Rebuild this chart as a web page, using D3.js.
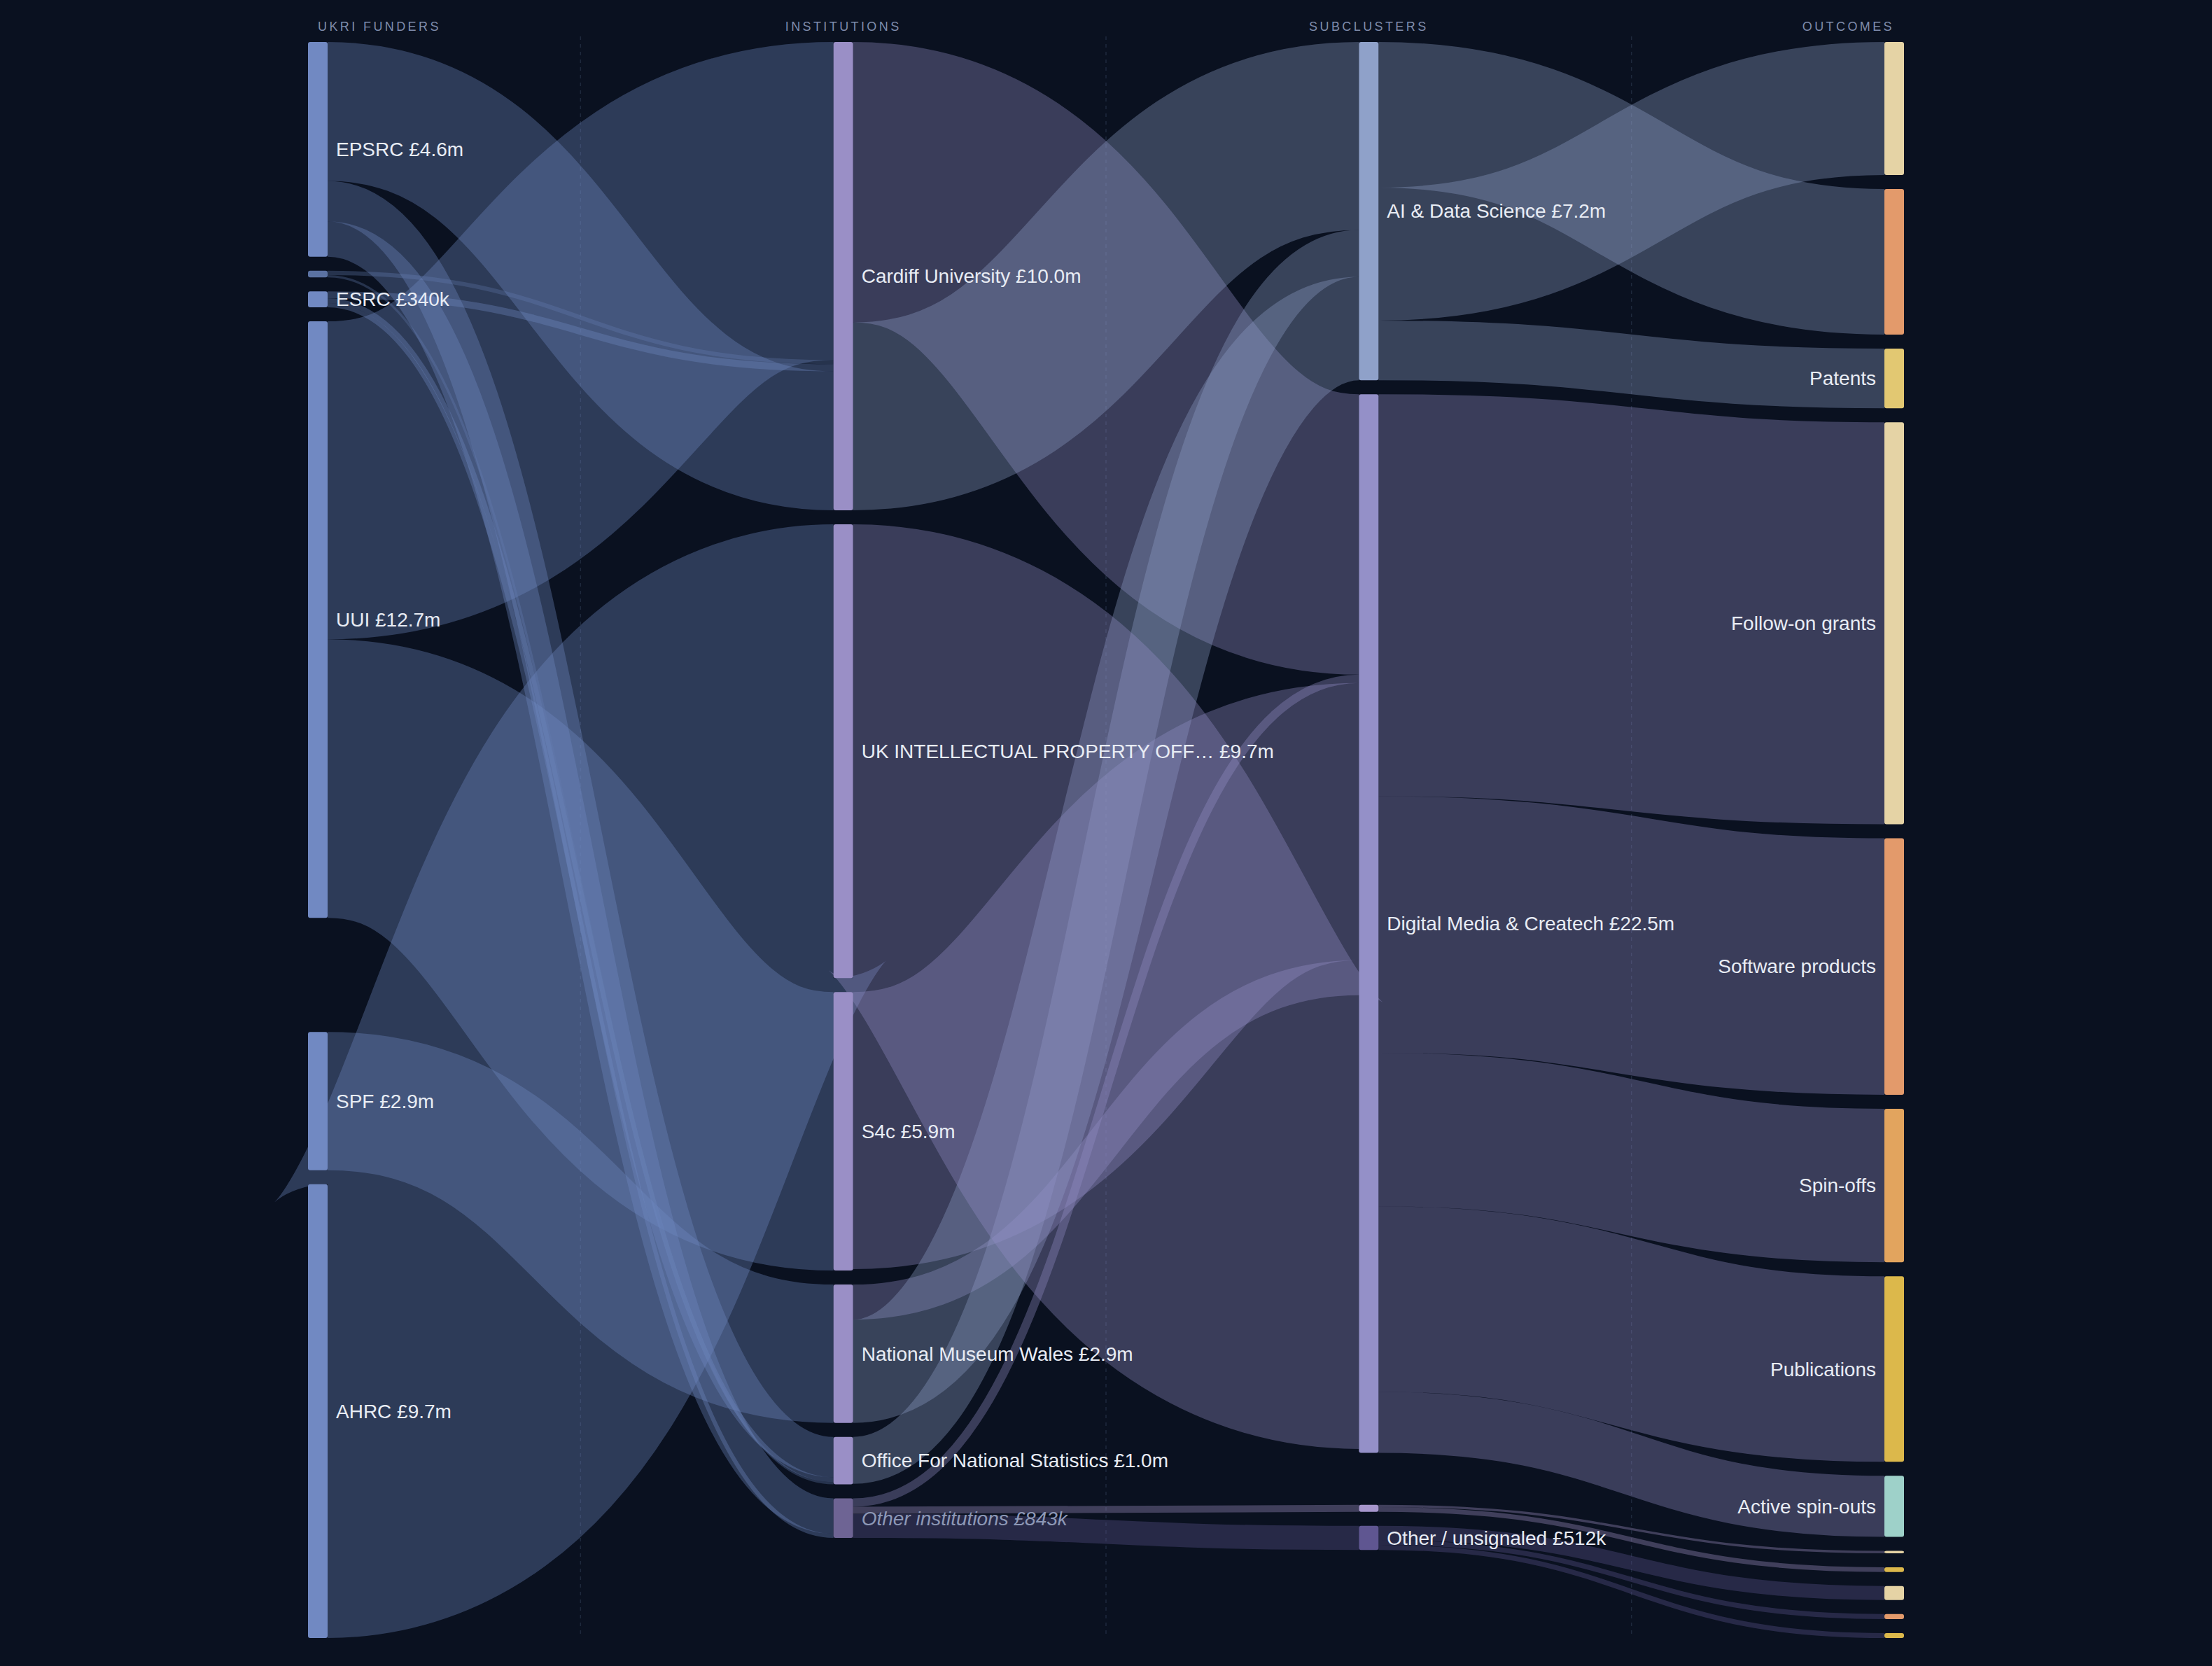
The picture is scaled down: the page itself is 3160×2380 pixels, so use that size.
<!DOCTYPE html>
<html><head><meta charset="utf-8">
<script src="https://cdn.jsdelivr.net/npm/d3@7"></script>
<style>
html,body{margin:0;padding:0;background:#0a1120;}
svg{display:block;}
</style></head><body>
<script>
// ---------------- DATA ----------------
const columnTitles = ["UKRI FUNDERS", "INSTITUTIONS", "SUBCLUSTERS", "OUTCOMES"];
const funders = ["EPSRC", "Other funders", "ESRC", "UUI", "SPF", "AHRC"];
const institutions = ["Cardiff University", "UK INTELLECTUAL PROPERTY OFF\u2026", "S4c",
  "National Museum Wales", "Office For National Statistics", "Other institutions"];
const subclusters = ["AI & Data Science", "Digital Media & Createch", "Other subclusters", "Other / unsignaled"];
const outcomeTypes = ["Follow-on grants", "Software products", "Patents", "Spin-offs", "Publications", "Active spin-outs"];

// funder -> institution (£m)
const fundingFlows = [
  ["UUI", "Cardiff University", 6.77],
  ["Other funders", "Cardiff University", 0.09],
  ["ESRC", "Cardiff University", 0.15],
  ["EPSRC", "Cardiff University", 2.96],
  ["AHRC", "UK INTELLECTUAL PROPERTY OFF\u2026", 9.66],
  ["UUI", "S4c", 5.93],
  ["SPF", "National Museum Wales", 2.945],
  ["EPSRC", "Office For National Statistics", 0.86],
  ["ESRC", "Office For National Statistics", 0.10],
  ["Other funders", "Office For National Statistics", 0.05],
  ["EPSRC", "Other institutions", 0.753],
  ["ESRC", "Other institutions", 0.09]
];
// institution -> subcluster (£m)
const clusterFlows = [
  ["Cardiff University", "Digital Media & Createch", 5.97],
  ["Cardiff University", "AI & Data Science", 4.00],
  ["Office For National Statistics", "AI & Data Science", 1.00],
  ["Other institutions", "Digital Media & Createch", 0.18],
  ["S4c", "Digital Media & Createch", 5.90],
  ["National Museum Wales", "Digital Media & Createch", 0.745],
  ["National Museum Wales", "AI & Data Science", 2.20],
  ["UK INTELLECTUAL PROPERTY OFF\u2026", "Digital Media & Createch", 9.66],
  ["Other institutions", "Other subclusters", 0.15],
  ["Other institutions", "Other / unsignaled", 0.512]
];
// subcluster -> outcome (£m)
const outcomeFlows = [
  ["AI & Data Science", "Software products", 3.10],
  ["AI & Data Science", "Follow-on grants", 2.83],
  ["AI & Data Science", "Patents", 1.27],
  ["Digital Media & Createch", "Follow-on grants", 8.56],
  ["Digital Media & Createch", "Software products", 5.46],
  ["Digital Media & Createch", "Spin-offs", 3.27],
  ["Digital Media & Createch", "Publications", 3.95],
  ["Digital Media & Createch", "Active spin-outs", 1.30],
  ["Other subclusters", "Follow-on grants", 0.05],
  ["Other subclusters", "Publications", 0.10],
  ["Other / unsignaled", "Follow-on grants", 0.30],
  ["Other / unsignaled", "Software products", 0.106],
  ["Other / unsignaled", "Publications", 0.106]
];

// ---------------- STYLE ----------------
const W = 3160, H = 2380;
const BG = "#0a1120";
const nodeColors = {
  "EPSRC": "#7189c2", "Other funders": "#5b72a2", "ESRC": "#7189c2", "UUI": "#7189c2", "SPF": "#7189c2", "AHRC": "#7189c2",
  "Cardiff University": "#9a8fc6", "UK INTELLECTUAL PROPERTY OFF\u2026": "#9a8fc6", "S4c": "#9a8fc6",
  "National Museum Wales": "#9a8fc6", "Office For National Statistics": "#9a8fc6", "Other institutions": "#6e6494",
  "AI & Data Science": "#8fa1c9", "Digital Media & Createch": "#9490c8", "Other subclusters": "#a696cc", "Other / unsignaled": "#5f5691",
  "Follow-on grants": "#e5d3a5", "Software products": "#e39a6b", "Patents": "#e2c872",
  "Spin-offs": "#e2a45e", "Publications": "#dcb84b", "Active spin-outs": "#9ed1c9"
};

// ---------------- GRAPH ----------------
const nodes = [];
funders.forEach(n => nodes.push({id: n, name: n}));
institutions.forEach(n => nodes.push({id: n, name: n}));
subclusters.forEach(n => nodes.push({id: n, name: n}));
subclusters.forEach(s => outcomeTypes.forEach(t => {
  if (outcomeFlows.some(f => f[0] === s && f[1] === t)) nodes.push({id: s + "|" + t, name: t});
}));
const links = [];
fundingFlows.forEach(([s, t, v]) => links.push({source: s, target: t, value: v}));
clusterFlows.forEach(([s, t, v]) => links.push({source: s, target: t, value: v}));
outcomeFlows.forEach(([s, t, v]) => links.push({source: s, target: s + "|" + t, value: v}));

// Sankey layout (d3-sankey algorithm, input order kept for nodes and links)
function sankeyLayout(nodes, links, opt) {
  const {x0, y0, x1, y1, nodeWidth: dx, nodePadding: dy, iterations} = opt;
  const byId = new Map(nodes.map(n => [n.id, n]));
  nodes.forEach((n, i) => { n.index = i; n.sourceLinks = []; n.targetLinks = []; });
  links.forEach((l, i) => {
    l.index = i; l.source = byId.get(l.source); l.target = byId.get(l.target);
    l.source.sourceLinks.push(l); l.target.targetLinks.push(l);
  });
  nodes.forEach(n => n.value = Math.max(d3.sum(n.sourceLinks, l => l.value), d3.sum(n.targetLinks, l => l.value)));
  let current = new Set(nodes), next = new Set(), x = 0;
  while (current.size) {
    for (const n of current) { n.depth = x; for (const l of n.sourceLinks) next.add(l.target); }
    if (++x > nodes.length) throw new Error("circular");
    current = next; next = new Set();
  }
  const nCols = d3.max(nodes, n => n.depth) + 1;
  const kx = (x1 - x0 - dx) / (nCols - 1);
  const columns = Array.from({length: nCols}, () => []);
  for (const n of nodes) {
    const i = n.sourceLinks.length ? n.depth : nCols - 1;
    n.layer = i; n.x0 = x0 + i * kx; n.x1 = n.x0 + dx; columns[i].push(n);
  }
  const py = Math.min(dy, (y1 - y0) / (d3.max(columns, c => c.length) - 1));
  const ky = d3.min(columns, c => (y1 - y0 - (c.length - 1) * py) / d3.sum(c, n => n.value));
  for (const col of columns) {
    let y = y0;
    for (const n of col) {
      n.y0 = y; n.y1 = y + n.value * ky; y = n.y1 + py;
      for (const l of n.sourceLinks) l.width = l.value * ky;
    }
    y = (y1 - y + py) / (col.length + 1);
    col.forEach((n, i) => { n.y0 += y * (i + 1); n.y1 += y * (i + 1); });
  }
  function targetTop(source, target) {
    let y = source.y0 - (source.sourceLinks.length - 1) * py / 2;
    for (const {target: node, width} of source.sourceLinks) { if (node === target) break; y += width + py; }
    for (const {source: node, width} of target.targetLinks) { if (node === source) break; y -= width; }
    return y;
  }
  function sourceTop(source, target) {
    let y = target.y0 - (target.targetLinks.length - 1) * py / 2;
    for (const {source: node, width} of target.targetLinks) { if (node === source) break; y += width + py; }
    for (const {target: node, width} of source.sourceLinks) { if (node === target) break; y -= width; }
    return y;
  }
  function topToBottom(col, y, i, a) {
    for (; i < col.length; ++i) { const n = col[i]; const d = (y - n.y0) * a; if (d > 1e-6) { n.y0 += d; n.y1 += d; } y = n.y1 + py; }
  }
  function bottomToTop(col, y, i, a) {
    for (; i >= 0; --i) { const n = col[i]; const d = (n.y1 - y) * a; if (d > 1e-6) { n.y0 -= d; n.y1 -= d; } y = n.y0 - py; }
  }
  function resolve(col, a) {
    const i = col.length >> 1, s = col[i];
    bottomToTop(col, s.y0 - py, i - 1, a);
    topToBottom(col, s.y1 + py, i + 1, a);
    bottomToTop(col, y1, col.length - 1, a);
    topToBottom(col, y0, 0, a);
  }
  function relaxLR(alpha, beta) {
    for (let i = 1; i < columns.length; ++i) {
      for (const t of columns[i]) {
        let y = 0, w = 0;
        for (const {source, value} of t.targetLinks) { const v = value * (t.layer - source.layer); y += targetTop(source, t) * v; w += v; }
        if (!(w > 0)) continue;
        const d = (y / w - t.y0) * alpha; t.y0 += d; t.y1 += d;
      }
      resolve(columns[i], beta);
    }
  }
  function relaxRL(alpha, beta) {
    for (let i = columns.length - 2; i >= 0; --i) {
      for (const s of columns[i]) {
        let y = 0, w = 0;
        for (const {target, value} of s.sourceLinks) { const v = value * (target.layer - s.layer); y += sourceTop(s, target) * v; w += v; }
        if (!(w > 0)) continue;
        const d = (y / w - s.y0) * alpha; s.y0 += d; s.y1 += d;
      }
      resolve(columns[i], beta);
    }
  }
  for (let i = 0; i < iterations; ++i) {
    const alpha = Math.pow(0.99, i);
    const beta = Math.max(1 - alpha, (i + 1) / iterations);
    relaxRL(alpha, beta); relaxLR(alpha, beta);
  }
  for (const n of nodes) {
    let a = n.y0, b = n.y0;
    for (const l of n.sourceLinks) { l.y0 = a + l.width / 2; a += l.width; }
    for (const l of n.targetLinks) { l.y1 = b + l.width / 2; b += l.width; }
  }
  return columns;
}

const columns = sankeyLayout(nodes, links, {x0: 440, y0: 60, x1: 2720, y1: 2340, nodeWidth: 28, nodePadding: 20, iterations: 6});

// ---------------- RENDER ----------------
const svg = d3.select("body").append("svg").attr("width", W).attr("height", H)
  .style("font-family", "'Liberation Sans', Arial, sans-serif");
svg.append("rect").attr("width", W).attr("height", H).attr("fill", BG);

// dashed column separators
const sepX = d3.range(columns.length - 1).map(i => (columns[i][0].x1 + columns[i + 1][0].x0) / 2);
svg.append("g").selectAll("line").data(sepX).join("line")
  .attr("x1", d => d).attr("x2", d => d).attr("y1", 52).attr("y2", 2340)
  .attr("stroke", "#1e293c").attr("stroke-width", 1.5).attr("stroke-dasharray", "5,6");

// column titles
svg.append("g").selectAll("text").data(columns).join("text")
  .attr("x", c => (c[0].x0 + c[0].x1) / 2)
  .attr("y", 44)
  .attr("text-anchor", (c, i) => i === 0 ? "start" : (i === columns.length - 1 ? "end" : "middle"))
  .attr("fill", "#7f8cab").attr("font-size", 18).attr("letter-spacing", "3.4px")
  .text((c, i) => columnTitles[i]);

// links
function linkColor(l) {
  const n = l.source.layer === 1 ? l.target : l.source;
  return nodeColors[n.name];
}
const linkPath = d3.linkHorizontal().source(d => [d.source.x1, d.y0]).target(d => [d.target.x0, d.y1]);
svg.append("g").attr("fill", "none").selectAll("path").data(links).join("path")
  .attr("d", linkPath)
  .attr("stroke", linkColor)
  .attr("stroke-opacity", 0.35)
  .attr("stroke-width", d => Math.max(1, d.width));

// nodes
svg.append("g").selectAll("rect").data(nodes).join("rect")
  .attr("x", d => d.x0).attr("y", d => d.y0)
  .attr("width", d => d.x1 - d.x0).attr("height", d => Math.max(1, d.y1 - d.y0))
  .attr("rx", 3).attr("fill", d => nodeColors[d.name]);

// labels
const fmt = v => v >= 1 ? "\u00a3" + v.toFixed(1) + "m" : "\u00a3" + Math.round(v * 1000) + "k";
const largestByName = d3.rollup(nodes.filter(n => n.layer === 3), v => d3.max(v, n => n.value), n => n.name);
const labelled = nodes.filter(n => (n.y1 - n.y0) > 21 && (n.layer < 3 || n.value === largestByName.get(n.name)));
svg.append("g").selectAll("text").data(labelled).join("text")
  .attr("x", d => d.layer < 3 ? d.x1 + 12 : d.x0 - 12)
  .attr("y", d => (d.y0 + d.y1) / 2)
  .attr("dy", "0.35em")
  .attr("text-anchor", d => d.layer < 3 ? "start" : "end")
  .attr("font-size", 28)
  .attr("font-style", d => d.layer === 1 && d.name.startsWith("Other") ? "italic" : "normal")
  .attr("fill", d => d.layer === 1 && d.name.startsWith("Other") ? "#8d98b6" : "#e8ecf4")
  .text(d => d.layer < 3 ? d.name + " " + fmt(d.value) : d.name);
</script>
</body></html>
